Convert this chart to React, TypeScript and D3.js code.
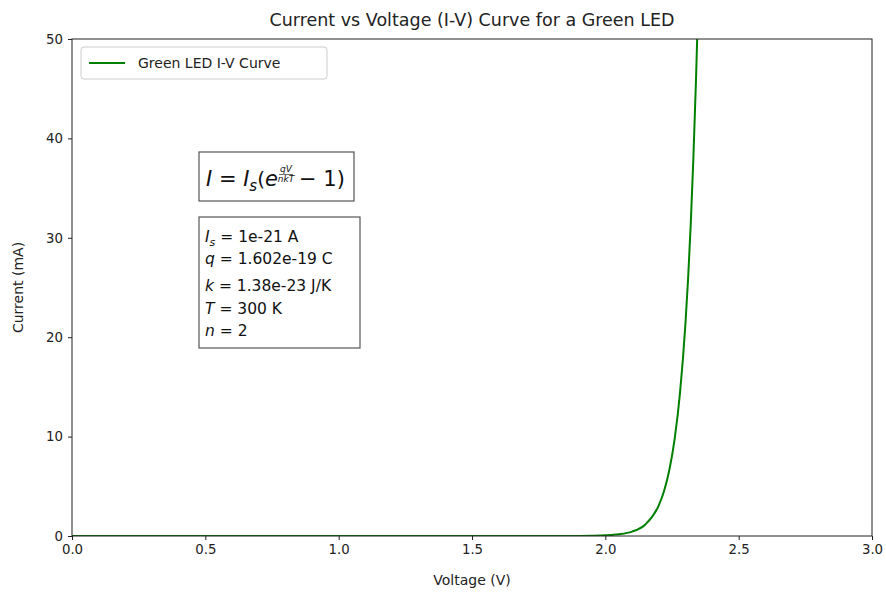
import React, { useEffect, useRef } from 'react'
import * as d3 from 'd3'

// values (V in volts, I in mA)
const voltages = [0, 0.5, 1.0, 1.5, 1.8, 1.9, 1.95, 2.0, 2.05, 2.1, 2.15, 2.2, 2.22, 2.24, 2.26, 2.28, 2.3, 2.31, 2.32, 2.33, 2.34, 2.345]
const currents = [0, 0, 0, 0, 0.002, 0.009, 0.024, 0.064, 0.168, 0.442, 1.16, 3.06, 4.51, 6.64, 9.77, 14.4, 21.2, 25.7, 31.2, 37.9, 45.9, 50.6]
const xTicks = [0, 0.5, 1.0, 1.5, 2.0, 2.5, 3.0]
const yTicks = [0, 10, 20, 30, 40, 50]
const paramLines = [
  ['I', 's', ' = 1e-21 A'],
  ['q', '', ' = 1.602e-19 C'],
  ['k', '', ' = 1.38e-23 J/K'],
  ['T', '', ' = 300 K'],
  ['n', '', ' = 2']
]

function App () {
  const ref = useRef<SVGSVGElement>(null)

  useEffect(() => {
    const root = d3.select(ref.current)
    root.selectAll('*').remove()

    const margin = { top: 39, right: 14, bottom: 57, left: 72 }
    const width = 886 - margin.left - margin.right
    const height = 593 - margin.top - margin.bottom
    const font = 'DejaVu Sans, sans-serif'

    const svg = root.append('g')
      .attr('transform', 'translate(' + margin.left + ',' + margin.top + ')')

    const x = d3.scaleLinear().domain([0, 3]).range([0, width])
    const y = d3.scaleLinear().domain([0, 50]).range([height, 0])

    svg.append('clipPath').attr('id', 'plot-clip')
      .append('rect').attr('width', width).attr('height', height)

    const data = voltages.map((v, i) => ({ v, c: currents[i] }))
    const line = d3.line<{ v: number, c: number }>()
      .x(d => x(d.v))
      .y(d => y(d.c))
      .curve(d3.curveMonotoneX)

    svg.append('path')
      .datum(data)
      .attr('clip-path', 'url(#plot-clip)')
      .attr('fill', 'none')
      .attr('stroke', 'green')
      .attr('stroke-width', 2)
      .attr('d', line)

    // axes
    const xAxis = svg.append('g')
      .attr('transform', 'translate(0,' + height + ')')
      .call(d3.axisBottom(x).tickValues(xTicks).tickFormat(d3.format('.1f')).tickSizeOuter(0).tickSize(4).tickPadding(5))
    const yAxis = svg.append('g')
      .call(d3.axisLeft(y).tickValues(yTicks).tickFormat(d3.format('d')).tickSizeOuter(0).tickSize(4).tickPadding(5))
    for (const ax of [xAxis, yAxis]) {
      ax.selectAll('text').attr('font-family', font).attr('font-size', 13.3).attr('fill', '#222')
      ax.selectAll('line').attr('stroke', '#222')
      ax.select('.domain').remove()
    }

    svg.append('rect')
      .attr('width', width).attr('height', height)
      .attr('fill', 'none').attr('stroke', '#222').attr('stroke-width', 1)

    // title and labels
    svg.append('text')
      .attr('x', width / 2).attr('y', -13)
      .attr('text-anchor', 'middle')
      .attr('font-family', font).attr('font-size', 17.5).attr('fill', '#222')
      .text('Current vs Voltage (I-V) Curve for a Green LED')

    svg.append('text')
      .attr('x', width / 2).attr('y', height + 49)
      .attr('text-anchor', 'middle')
      .attr('font-family', font).attr('font-size', 14).attr('fill', '#222')
      .text('Voltage (V)')

    svg.append('g')
      .attr('transform', 'translate(' + (-49) + ',' + (height / 2) + ')')
      .append('text')
      .attr('text-anchor', 'middle')
      .attr('transform', 'rotate(-90)')
      .attr('font-family', font).attr('font-size', 14).attr('fill', '#222')
      .text('Current (mA)')

    // legend
    const lg = svg.append('g').attr('transform', 'translate(9,8)')
    lg.append('rect')
      .attr('width', 246).attr('height', 32).attr('rx', 3)
      .attr('fill', 'white').attr('fill-opacity', 0.8)
      .attr('stroke', '#ccc')
    lg.append('line')
      .attr('x1', 8).attr('x2', 44).attr('y1', 16).attr('y2', 16)
      .attr('stroke', 'green').attr('stroke-width', 2)
    lg.append('text')
      .attr('x', 57).attr('y', 21)
      .attr('font-family', font).attr('font-size', 14).attr('fill', '#222')
      .text('Green LED I-V Curve')

    // formula box
    const fb = svg.append('g').attr('transform', 'translate(' + (199 - margin.left) + ',' + (152 - margin.top) + ')')
    fb.append('rect')
      .attr('width', 155).attr('height', 49)
      .attr('fill', 'white').attr('stroke', '#555').attr('stroke-width', 1.2)
    const ft = fb.append('text')
      .attr('x', 7).attr('y', 34)
      .attr('font-family', font).attr('font-size', 21).attr('fill', '#111')
    ft.append('tspan').attr('font-style', 'italic').text('I')
    ft.append('tspan').text(' = ')
    ft.append('tspan').attr('font-style', 'italic').text('I')
    ft.append('tspan').attr('font-style', 'italic').attr('font-size', 15).attr('dy', 5).text('s')
    ft.append('tspan').attr('dy', -5).attr('font-size', 20).text('(')
    ft.append('tspan').attr('font-style', 'italic').text('e')
    fb.append('text')
      .attr('x', 87).attr('y', 20)
      .attr('font-family', font).attr('font-size', 9).attr('font-style', 'italic')
      .attr('text-anchor', 'middle').attr('fill', '#111')
      .text('qV')
    fb.append('line')
      .attr('x1', 80).attr('x2', 94).attr('y1', 22.5).attr('y2', 22.5)
      .attr('stroke', '#111').attr('stroke-width', 0.6)
    fb.append('text')
      .attr('x', 87).attr('y', 30)
      .attr('font-family', font).attr('font-size', 9).attr('font-style', 'italic')
      .attr('text-anchor', 'middle').attr('fill', '#111')
      .text('nkT')
    fb.append('text')
      .attr('x', 100).attr('y', 34)
      .attr('font-family', font).attr('font-size', 21).attr('fill', '#111')
      .text('− 1)')

    // parameter box
    const pb = svg.append('g').attr('transform', 'translate(' + (199 - margin.left) + ',' + (217 - margin.top) + ')')
    pb.append('rect')
      .attr('width', 161).attr('height', 131)
      .attr('fill', 'white').attr('stroke', '#555').attr('stroke-width', 1.2)
    const rows = [25, 47, 74, 97, 119]
    paramLines.forEach((p, i) => {
      const t = pb.append('text')
        .attr('x', 6).attr('y', rows[i])
        .attr('font-family', font).attr('font-size', 15.5).attr('fill', '#111')
      t.append('tspan').attr('font-style', 'italic').text(p[0])
      if (p[1]) t.append('tspan').attr('font-style', 'italic').attr('font-size', 11).attr('dy', 4).text(p[1])
      t.append('tspan').attr('dy', p[1] ? -4 : 0).text(p[2])
    })
  }, [])

  return <svg ref={ref} width={886} height={593} style={{ position: 'absolute', left: 0, top: 0, background: 'white' }} />
}

export default App
